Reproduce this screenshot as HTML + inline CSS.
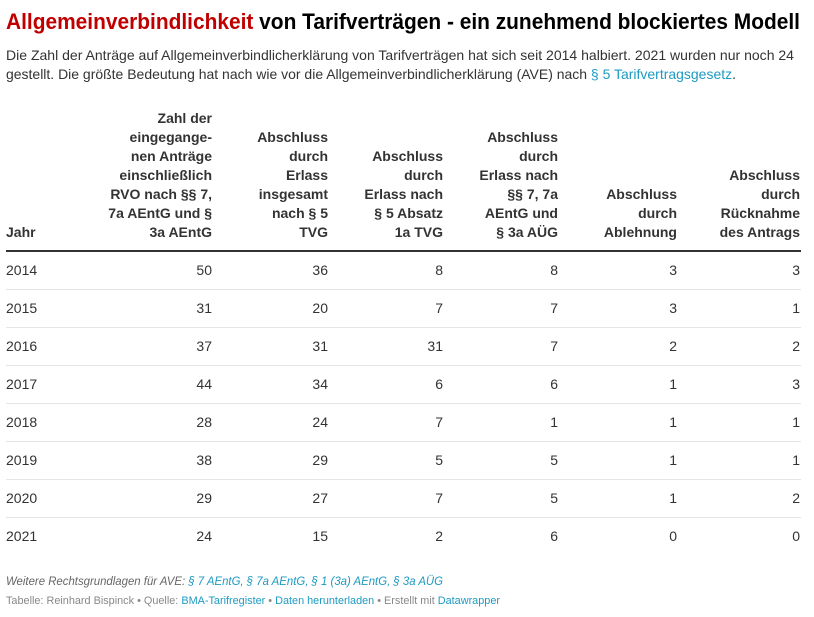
<!DOCTYPE html>
<html><head><meta charset="utf-8"><style>
html,body{margin:0;padding:0;background:#fff;}
svg{display:block;font-family:"Liberation Sans",sans-serif;}
.h{font-weight:bold;font-size:14px;fill:#333;text-anchor:end;}
.d{font-size:14px;fill:#333;text-anchor:end;}
.y{font-size:14px;fill:#333;}
</style></head><body>
<svg width="814" height="617" viewBox="0 0 814 617">
<text x="6" y="29" font-size="22" font-weight="bold" fill="#000" textLength="794" lengthAdjust="spacingAndGlyphs"><tspan fill="#c00000">Allgemeinverbindlichkeit</tspan> von Tarifverträgen - ein zunehmend blockiertes Modell</text>
<text x="6" y="60" font-size="14" fill="#333" textLength="788" lengthAdjust="spacingAndGlyphs">Die Zahl der Anträge auf Allgemeinverbindlicherklärung von Tarifverträgen hat sich seit 2014 halbiert. 2021 wurden nur noch 24</text>
<text x="6" y="79" font-size="14" fill="#333" textLength="730" lengthAdjust="spacingAndGlyphs">gestellt. Die größte Bedeutung hat nach wie vor die Allgemeinverbindlicherklärung (AVE) nach <tspan fill="#1d9ac2">§ 5 Tarifvertragsgesetz</tspan>.</text>

<text x="6" y="237" class="h" style="text-anchor:start">Jahr</text>
<g class="h">
<text x="212" y="123">Zahl der</text><text x="212" y="142">eingegange-</text><text x="212" y="161">nen Anträge</text><text x="212" y="180">einschließlich</text><text x="212" y="199">RVO nach §§ 7,</text><text x="212" y="218">7a AEntG und §</text><text x="212" y="237">3a AEntG</text>
<text x="328" y="142">Abschluss</text><text x="328" y="161">durch</text><text x="328" y="180">Erlass</text><text x="328" y="199">insgesamt</text><text x="328" y="218">nach § 5</text><text x="328" y="237">TVG</text>
<text x="443" y="161">Abschluss</text><text x="443" y="180">durch</text><text x="443" y="199">Erlass nach</text><text x="443" y="218">§ 5 Absatz</text><text x="443" y="237">1a TVG</text>
<text x="558" y="142">Abschluss</text><text x="558" y="161">durch</text><text x="558" y="180">Erlass nach</text><text x="558" y="199">§§ 7, 7a</text><text x="558" y="218">AEntG und</text><text x="558" y="237">§ 3a AÜG</text>
<text x="677" y="199">Abschluss</text><text x="677" y="218">durch</text><text x="677" y="237">Ablehnung</text>
<text x="800" y="180">Abschluss</text><text x="800" y="199">durch</text><text x="800" y="218">Rücknahme</text><text x="800" y="237">des Antrags</text>
</g>
<rect x="6" y="250" width="795" height="2" fill="#333"/>
<g fill="#e5e5e5">
<rect x="6" y="289" width="795" height="1"/><rect x="6" y="327" width="795" height="1"/><rect x="6" y="365" width="795" height="1"/><rect x="6" y="403" width="795" height="1"/><rect x="6" y="441" width="795" height="1"/><rect x="6" y="479" width="795" height="1"/><rect x="6" y="517" width="795" height="1"/>
</g>
<g class="y">
<text x="6" y="275">2014</text><text x="6" y="313">2015</text><text x="6" y="351">2016</text><text x="6" y="389">2017</text><text x="6" y="427">2018</text><text x="6" y="465">2019</text><text x="6" y="503">2020</text><text x="6" y="541">2021</text>
</g>
<g class="d">
<text x="212" y="275">50</text><text x="328" y="275">36</text><text x="443" y="275">8</text><text x="558" y="275">8</text><text x="677" y="275">3</text><text x="800" y="275">3</text>
<text x="212" y="313">31</text><text x="328" y="313">20</text><text x="443" y="313">7</text><text x="558" y="313">7</text><text x="677" y="313">3</text><text x="800" y="313">1</text>
<text x="212" y="351">37</text><text x="328" y="351">31</text><text x="443" y="351">31</text><text x="558" y="351">7</text><text x="677" y="351">2</text><text x="800" y="351">2</text>
<text x="212" y="389">44</text><text x="328" y="389">34</text><text x="443" y="389">6</text><text x="558" y="389">6</text><text x="677" y="389">1</text><text x="800" y="389">3</text>
<text x="212" y="427">28</text><text x="328" y="427">24</text><text x="443" y="427">7</text><text x="558" y="427">1</text><text x="677" y="427">1</text><text x="800" y="427">1</text>
<text x="212" y="465">38</text><text x="328" y="465">29</text><text x="443" y="465">5</text><text x="558" y="465">5</text><text x="677" y="465">1</text><text x="800" y="465">1</text>
<text x="212" y="503">29</text><text x="328" y="503">27</text><text x="443" y="503">7</text><text x="558" y="503">5</text><text x="677" y="503">1</text><text x="800" y="503">2</text>
<text x="212" y="541">24</text><text x="328" y="541">15</text><text x="443" y="541">2</text><text x="558" y="541">6</text><text x="677" y="541">0</text><text x="800" y="541">0</text>
</g>
<text x="6" y="585" font-size="12" font-style="italic" fill="#666" textLength="437" lengthAdjust="spacingAndGlyphs">Weitere Rechtsgrundlagen für AVE: <tspan fill="#1d9ac2">§ 7 AEntG, § 7a AEntG, § 1 (3a) AEntG, § 3a AÜG</tspan></text>
<text x="6" y="604" font-size="11" fill="#888" textLength="494" lengthAdjust="spacingAndGlyphs">Tabelle: Reinhard Bispinck • Quelle: <tspan fill="#1d9ac2">BMA-Tarifregister</tspan> • <tspan fill="#1d9ac2">Daten herunterladen</tspan> • Erstellt mit <tspan fill="#1d9ac2">Datawrapper</tspan></text>
</svg>
</body></html>
